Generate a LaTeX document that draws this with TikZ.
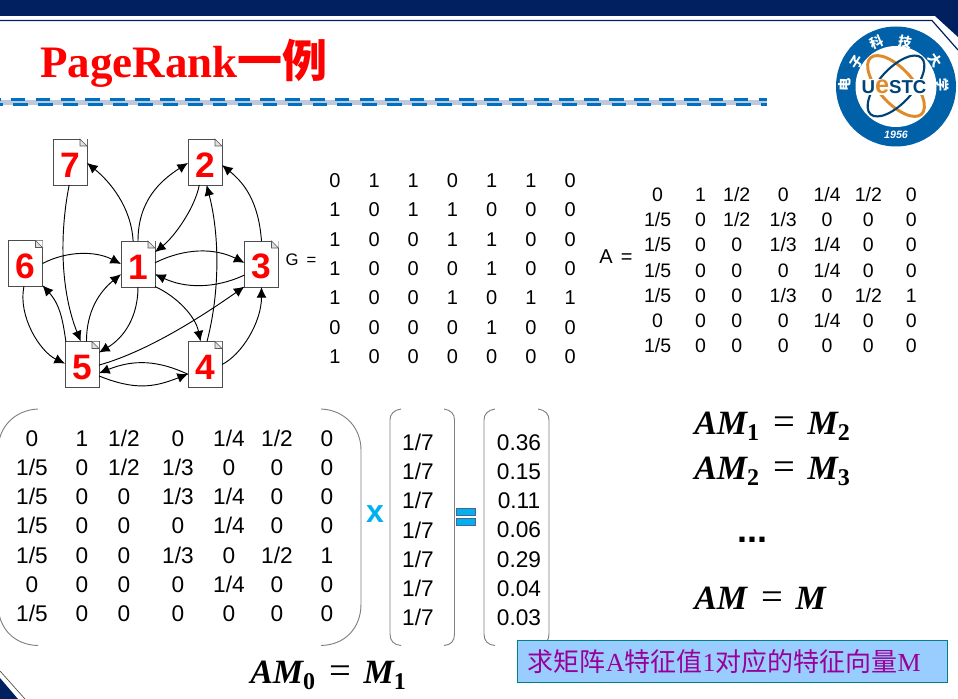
\documentclass[tikz,border=0pt]{standalone}
\usepackage{array}
\usepackage{fontspec}
\setmainfont{Liberation Sans}
\newfontfamily\titlefont{Liberation Serif}
\newfontfamily\cjk{Noto Sans CJK SC}
\usetikzlibrary{arrows.meta,calc}

\definecolor{navy}{HTML}{002060}
\definecolor{ringblue}{HTML}{0060A8}
\definecolor{dashblue}{HTML}{0070C0}
\definecolor{bandgray}{HTML}{C0C8DC}
\definecolor{signblue}{HTML}{00B0F0}
\definecolor{notefill}{HTML}{99CCFF}
\definecolor{noteline}{HTML}{008080}
\definecolor{notetext}{HTML}{990099}
\definecolor{orbit}{HTML}{E08A2C}

\newcommand{\matA}{\begin{tabular}{@{}wc{0pt}@{\hspace{37.5pt}}wc{0pt}@{\hspace{31.5pt}}wc{0pt}@{\hspace{40.5pt}}wc{0pt}@{\hspace{38.25pt}}wc{0pt}@{\hspace{36pt}}wc{0pt}@{\hspace{37.5pt}}wc{0pt}@{}}
0 & 1 & 1/2 & 0 & 1/4 & 1/2 & 0\\
1/5 & 0 & 1/2 & 1/3 & 0 & 0 & 0\\
1/5 & 0 & 0 & 1/3 & 1/4 & 0 & 0\\
1/5 & 0 & 0 & 0 & 1/4 & 0 & 0\\
1/5 & 0 & 0 & 1/3 & 0 & 1/2 & 1\\
0 & 0 & 0 & 0 & 1/4 & 0 & 0\\
1/5 & 0 & 0 & 0 & 0 & 0 & 0
\end{tabular}}
\newcommand{\msub}[1]{\raisebox{-5pt}{\fontsize{18}{18}\selectfont\upshape #1}}
\newcommand{\meq}{\hspace{11pt}\raisebox{-0.5pt}{\fontsize{29}{29}\selectfont\mdseries\upshape =}\hspace{9pt}}
\newcommand{\pagefold}[1]{
  \fill[white] ($(#1.north east)+(-7,0)$) -- (#1.north east) -- ($(#1.north east)+(0,7)$) -- cycle;
  \draw[black!65,fill=black!12] ($(#1.north east)+(-7,0)$) -- ($(#1.north east)+(0,7)$) -- ($(#1.north east)+(-7,7)$) -- cycle;}

\begin{document}
\begin{tikzpicture}[
  x=0.75pt, y=-0.75pt,
  page/.style={rectangle, draw=black!70, fill=white, minimum width=25.5pt,
               minimum height=34.5pt, inner sep=0pt, outer sep=0pt, text=red, text height=22.5pt,
               font=\fontsize{26.5}{26.5}\selectfont\bfseries},
  arr/.style={draw,-{Latex[length=2.8mm,width=2.6mm]},line width=0.7pt},
  mat/.style={inner sep=0pt, font=\fontsize{17}{21.9}\selectfont, align=center},
  gmat/.style={inner sep=0pt, font=\fontsize{15}{22}\selectfont},
  brk/.style={draw=black!50, line width=0.7pt},
  eqn/.style={inner sep=0pt, anchor=base west, font=\titlefont\fontsize{25.5}{26}\selectfont},
  sign/.style={rectangle, draw=navy!70, fill=signblue, line width=0.4pt,
               minimum width=14.5pt, minimum height=5pt, inner sep=0pt},
  seal/.style={inner sep=0pt, text=white, font=\cjk\bfseries\fontsize{10}{10}\selectfont},
  note/.style={rectangle, draw=noteline, fill=notefill, line width=0.8pt,
               text width=307pt, inner xsep=8pt, align=left,
               minimum height=32pt, inner ysep=0pt, text=notetext,
               font=\fontsize{19.5}{20}\selectfont}
]
\useasboundingbox (0,0) rectangle (958,699);

% frame of the slide
\fill[navy] (0,0) -- (958,0) -- (958,37) -- (935,16) -- (0,16) -- cycle;
\draw[navy,line width=0.9pt] (0,20.5) -- (932,20.5) -- (958,50);
\fill[navy] (0,678) -- (18,699) -- (0,699) -- cycle;
\draw[black!70,line width=0.5pt] (0,671) -- (25,699);

% title and rule
\node[anchor=base west, inner sep=0pt, text=red] (title) at (40,78)
  {\fontsize{33.75}{34}\selectfont\bfseries{\titlefont PageRank}{\cjk 一例}};
\fill[bandgray] (0,100) rectangle (767,105);
\draw[dashblue,line width=2.2pt,dash pattern=on 11 off 7.7,dash phase=-8] (0,99.5) -- (767,99.5);
\draw[dashblue,line width=2.2pt,dash pattern=on 11 off 7.7,dash phase=-10] (0,104.7) -- (767,104.7);

% seal
\fill[ringblue] (896,86.5) circle (60);
\fill[white] (896,86.5) circle (40.5);
\draw[orbit,line width=2.2pt,rotate around={-48:(896,86)}] (896,86) ellipse (38 and 17);
\draw[ringblue!70!black,line width=1.6pt,rotate around={48:(896,86)}] (896,86) ellipse (38 and 17);
\node[inner sep=1pt, fill=white, font=\fontsize{14}{15}\selectfont\bfseries, text=ringblue!70!black] (uestc) at (894,87)
  {U{\color{orbit}\fontsize{19}{19}\selectfont e}STC};
\node[seal, rotate=88]  (se1) at (845,85) {电};
\node[seal, rotate=58]  (se2) at (857,62) {子};
\node[seal, rotate=23]  (se3) at (877,42) {科};
\node[seal, rotate=-12] (se4) at (905,42) {技};
\node[seal, rotate=-56] (se5) at (935,60) {大};
\node[seal, rotate=-88] (se6) at (943,85) {学};
\node[inner sep=0pt, text=white, font=\fontsize{8}{8}\selectfont\bfseries\itshape] (year) at (896,135) {1956};

% link graph
\node[page] (n1) at (138,264) {1};
\node[page] (n2) at (205,162) {2};
\node[page] (n3) at (261.5,264) {3};
\node[page] (n4) at (205,364.5) {4};
\node[page] (n5) at (82,364.5) {5};
\node[page] (n6) at (25.5,263.5) {6};
\node[page] (n7) at (70,162) {7};
\pagefold{n1}\pagefold{n2}\pagefold{n3}\pagefold{n4}\pagefold{n5}\pagefold{n6}\pagefold{n7}
\draw[arr] (n1.102) .. controls +(-2,-35) and +(22,18) .. (n7.-3);
\draw[arr] (n1.90) .. controls +(0,-40) and +(-28,18) .. (n2.183);
\draw[arr] (n2.256) .. controls +(-4,22) and +(20,-16) .. (n1.35);
\draw[arr] (n4.85) .. controls +(13,-50) and +(13,50) .. (n2.-86);
\draw[arr] (n3.90) .. controls +(-3,-40) and +(22,18) .. (n2.-10);
\draw[arr] (n1.4) .. controls +(30,-15) and +(-30,-15) .. (n3.176);
\draw[arr] (n3.213) .. controls +(-30,14) and +(30,14) .. (n1.-31);
\draw[arr] (n6.0) .. controls +(25,-13) and +(-25,-13) .. (n1.180);
\draw[arr] (n5.79) .. controls +(0,-30) and +(-22,18) .. (n1.211);
\draw[arr] (n7.-92) .. controls +(-10,50) and +(-20,-50) .. (n5.93);
\draw[arr] (n5.125) .. controls +(-3,-20) and +(18,20) .. (n6.-52);
\draw[arr] (n6.-94) .. controls +(-6,30) and +(-25,-12) .. (n5.177);
\draw[arr] (n1.-90) .. controls +(0,30) and +(25,-15) .. (n5.35);
\draw[arr] (n1.-53) .. controls +(22,10) and +(-5,-25) .. (n4.101);
\draw[arr] (n5.-2) .. controls +(50,-14) and +(-40,28) .. (n3.233);
\draw[arr] (n4.0) .. controls +(20,-10) and +(0,35) .. (n3.-90);
\draw[arr] (n4.210) .. controls +(-30,-14) and +(35,-14) .. (n5.-27);
\draw[arr] (n5.-34) .. controls +(35,14) and +(-35,14) .. (n4.209);

% matrices G and A
\node[inner sep=0pt, font=\fontsize{12.5}{13}\selectfont] (glabel) at (301,260) {G\hspace{6pt}=};
\node[gmat] (gm) at (452.5,269.5) {\begin{tabular}{@{}wc{0pt}@{\hspace{29.4pt}}wc{0pt}@{\hspace{29.4pt}}wc{0pt}@{\hspace{29.4pt}}wc{0pt}@{\hspace{29.4pt}}wc{0pt}@{\hspace{29.4pt}}wc{0pt}@{\hspace{29.4pt}}wc{0pt}@{}}
0 & 1 & 1 & 0 & 1 & 1 & 0\\
1 & 0 & 1 & 1 & 0 & 0 & 0\\
1 & 0 & 0 & 1 & 1 & 0 & 0\\
1 & 0 & 0 & 0 & 1 & 0 & 0\\
1 & 0 & 0 & 1 & 0 & 1 & 1\\
0 & 0 & 0 & 0 & 1 & 0 & 0\\
1 & 0 & 0 & 0 & 0 & 0 & 0
\end{tabular}};
\node[inner sep=0pt, font=\fontsize{15}{15}\selectfont] (alabel) at (616,257) {A\hspace{6pt}=};
\node[mat, scale=0.86] (am) at (784.5,272) {\matA};

% product
\node[mat] (bigm) at (179.5,528) {\matA};
\draw[brk] (38,409) .. controls (14,410) and (-2,428) .. (-2,450) -- (-2,604) .. controls (-2,628) and (14,645) .. (38,645.5);
\draw[brk] (321,409) .. controls (345,410) and (361,428) .. (361,450) -- (361,604) .. controls (361,628) and (345,645) .. (321,645.5);
\draw[brk] (401,409) .. controls (394,410) and (390,414) .. (390,420) -- (390,634) .. controls (390,641) and (394,645) .. (401,645.5);
\draw[brk] (444,409) .. controls (451,410) and (454.5,414) .. (454.5,420) -- (454.5,634) .. controls (454.5,641) and (451,645) .. (444,645.5);
\draw[brk] (495,409) .. controls (488,410) and (484,414) .. (484,420) -- (484,634) .. controls (484,641) and (488,645) .. (495,645.5);
\draw[brk] (538,409) .. controls (545,410) and (549,414) .. (549,420) -- (549,634) .. controls (549,641) and (545,645) .. (538,645.5);
\node[mat] (vecm) at (418,530) {1/7\\1/7\\1/7\\1/7\\1/7\\1/7\\1/7};
\node[mat] (vecr) at (519,530) {0.36\\0.15\\0.11\\0.06\\0.29\\0.04\\0.03};
\node[inner sep=0pt, text=signblue, font=\fontsize{24}{24}\selectfont\bfseries] (times) at (375,514) {x};
\node[sign] (eqa) at (466,511.5) {};
\node[sign] (eqb) at (466,521.5) {};

% equations
\node[eqn] (eq0) at (250,683) {\bfseries\itshape AM\msub{0}\meq M\msub{1}};
\node[eqn] (eq1) at (694,434) {\bfseries\itshape AM\msub{1}\meq M\msub{2}};
\node[eqn] (eq2) at (694,479) {\bfseries\itshape AM\msub{2}\meq M\msub{3}};
\node[inner sep=0pt, anchor=base west, font=\fontsize{27}{27}\selectfont\bfseries] (dots) at (737,542) {...};
\node[eqn] (eq3) at (694,609) {\bfseries\itshape AM\meq M};

% note
\node[note] (result) at (732.5,661.5) {\cjk 求矩阵{\titlefont A}特征值{\titlefont 1}对应的特征向量{\titlefont M}};
\end{tikzpicture}
\end{document}
